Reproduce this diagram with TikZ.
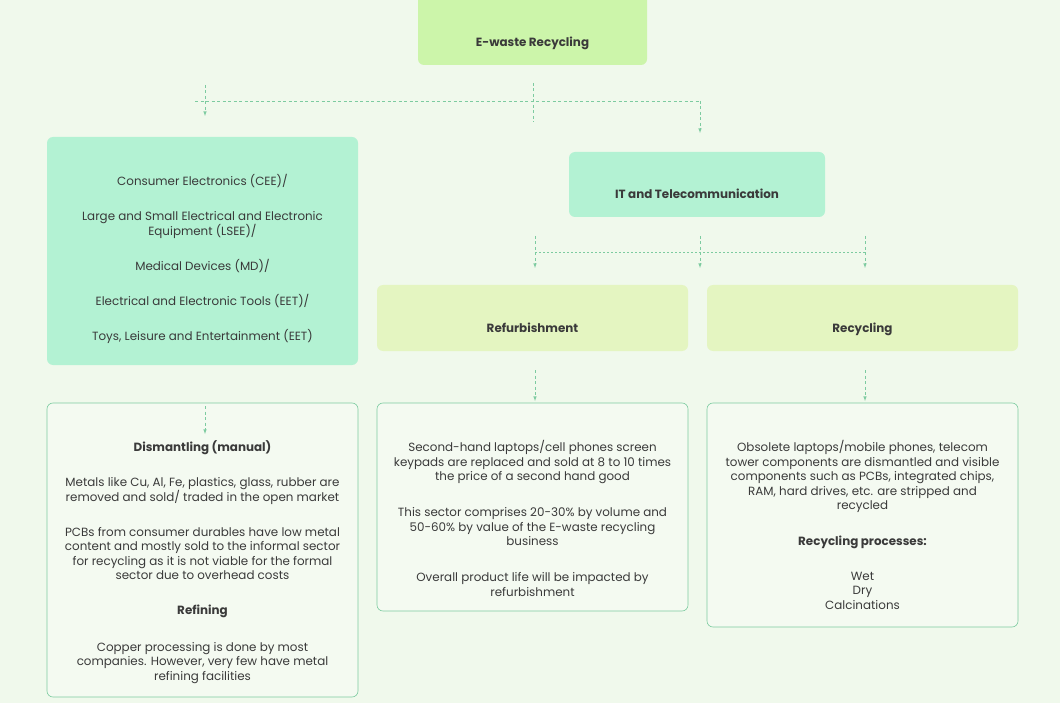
\documentclass[tikz,border=0pt]{standalone}
\usepackage{fontspec}
\setmainfont{Poppins}
\usetikzlibrary{positioning}
\definecolor{bgcol}{HTML}{F0F9EC}
\definecolor{rootcol}{HTML}{CCF5AA}
\definecolor{mintcol}{HTML}{B3F2D3}
\definecolor{limecol}{HTML}{E4F5C1}
\definecolor{edgecol}{HTML}{7DCBA0}
\definecolor{inkcol}{HTML}{3A3A3A}
\newcommand{\bodyfont}{\fontsize{11.9}{14.5}\selectfont}

\begin{document}
\begin{tikzpicture}[x=1pt, y=-1pt, >=latex, font=\bodyfont, text=inkcol]
    \tikzstyle{boxed}=[rounded corners=6pt, inner sep=0pt]
    \tikzstyle{headbox}=[boxed, text height=29pt, text depth=0pt,
      font=\bodyfont\bfseries]
    \tikzstyle{detail}=[boxed, draw=edgecol, line width=0.6pt, fill=bgcol!75!white]
    \tikzstyle{body}=[align=center, inner sep=0pt]
    \tikzstyle{link}=[draw=edgecol, dash pattern=on 3pt off 2.5pt, line width=0.6pt]
    \fill[bgcol] (0,0) rectangle (1060,703);
    \useasboundingbox (0,0) rectangle (1060,703);
    % level 1 and 2
    \node[headbox, fill=rootcol, minimum width=229pt, minimum height=85pt,
      text height=48pt] (root) at (532.5,22.5) {E-waste Recycling};
    \node[boxed, fill=mintcol, minimum width=311pt, minimum height=228pt]
      (cat) at (202.5,251) {};
    \node[body, below=37.5pt of cat.north] (cattext) {%
      Consumer Electronics (CEE)/\\[20.5pt]
      Large and Small Electrical and Electronic\\ Equipment (LSEE)/\\[20.5pt]
      Medical Devices (MD)/\\[20.5pt]
      Electrical and Electronic Tools (EET)/\\[20.5pt]
      Toys, Leisure and Entertainment (EET)};
    \node[headbox, fill=mintcol, minimum width=256pt, minimum height=65pt]
      (it) at (697,184.5) {IT and Telecommunication};
    \node[headbox, fill=limecol, minimum width=311pt, minimum height=66pt]
      (refurb) at (532.5,318) {Refurbishment};
    \node[headbox, fill=limecol, minimum width=311pt, minimum height=66pt]
      (recyc) at (862.5,318) {Recycling};
    % detail boxes
    \node[detail, minimum width=311pt, minimum height=294pt] (dis) at (202.5,550) {};
    \node[detail, minimum width=311pt, minimum height=208pt] (sec) at (532.5,507) {};
    \node[detail, minimum width=311pt, minimum height=224pt] (obs) at (862.5,515) {};
    \node[body, below=38pt of dis.north] (distext) {%
      \textbf{Dismantling (manual)}\\[20.5pt]
      Metals like Cu, Al, Fe, plastics, glass, rubber are\\
      removed and sold/ traded in the open market\\[20.5pt]
      PCBs from consumer durables have low metal\\
      content and mostly sold to the informal sector\\
      for recycling as it is not viable for the formal\\
      sector due to overhead costs\\[20pt]
      \textbf{Refining}\\[22.5pt]
      Copper processing is done by most\\
      companies. However, very few have metal\\
      refining facilities};
    \node[body, below=37.5pt of sec.north] (sectext) {%
      Second-hand laptops/cell phones screen\\
      keypads are replaced and sold at 8 to 10 times\\
      the price of a second hand good\\[21.5pt]
      This sector comprises 20-30\% by volume and\\
      50-60\% by value of the E-waste recycling\\
      business\\[21.5pt]
      Overall product life will be impacted by\\
      refurbishment};
    \node[body, below=37.5pt of obs.north] (obstext) {%
      Obsolete laptops/mobile phones, telecom\\
      tower components are dismantled and visible\\
      components such as PCBs, integrated chips,\\
      RAM, hard drives, etc. are stripped and\\
      recycled\\[21pt]
      \textbf{Recycling processes:}\\[20.5pt]
      Wet\\ Dry\\ Calcinations};
    % connector points
    \coordinate (rootA) at (533,83);   \coordinate (rootB) at (533,122);
    \coordinate (hubL) at (195,101);   \coordinate (hubR) at (700,101);
    \coordinate (catA) at (205,85);    \coordinate (catB) at (205,116);
    \coordinate (itB) at (700,133);
    \coordinate (itA) at (700,236);    \coordinate (itC) at (700,268);
    \coordinate (refA) at (535,236);   \coordinate (refB) at (535,268);
    \coordinate (recA) at (865,236);   \coordinate (recB) at (865,268);
    \coordinate (midL) at (535,252);   \coordinate (midR) at (865,252);
    \coordinate (secA) at (535,370);   \coordinate (secB) at (535,401);
    \coordinate (obsA) at (865,370);   \coordinate (obsB) at (865,401);
    \coordinate (disA) at (205,406);   \coordinate (disB) at (205,434);
    \draw[link] (rootA) -- (rootB);
    \draw[link] (hubL) -- (hubR);
    \draw[link, ->] (catA) -- (catB);
    \draw[link, ->] (hubR) -- (itB);
    \draw[link, dash pattern=on 2pt off 2pt] (midL) -- (midR);
    \foreach \a/\b in {itA/itC, refA/refB, recA/recB, secA/secB, obsA/obsB, disA/disB}
      \draw[link, ->] (\a) -- (\b);
  \end{tikzpicture}
\end{document}
